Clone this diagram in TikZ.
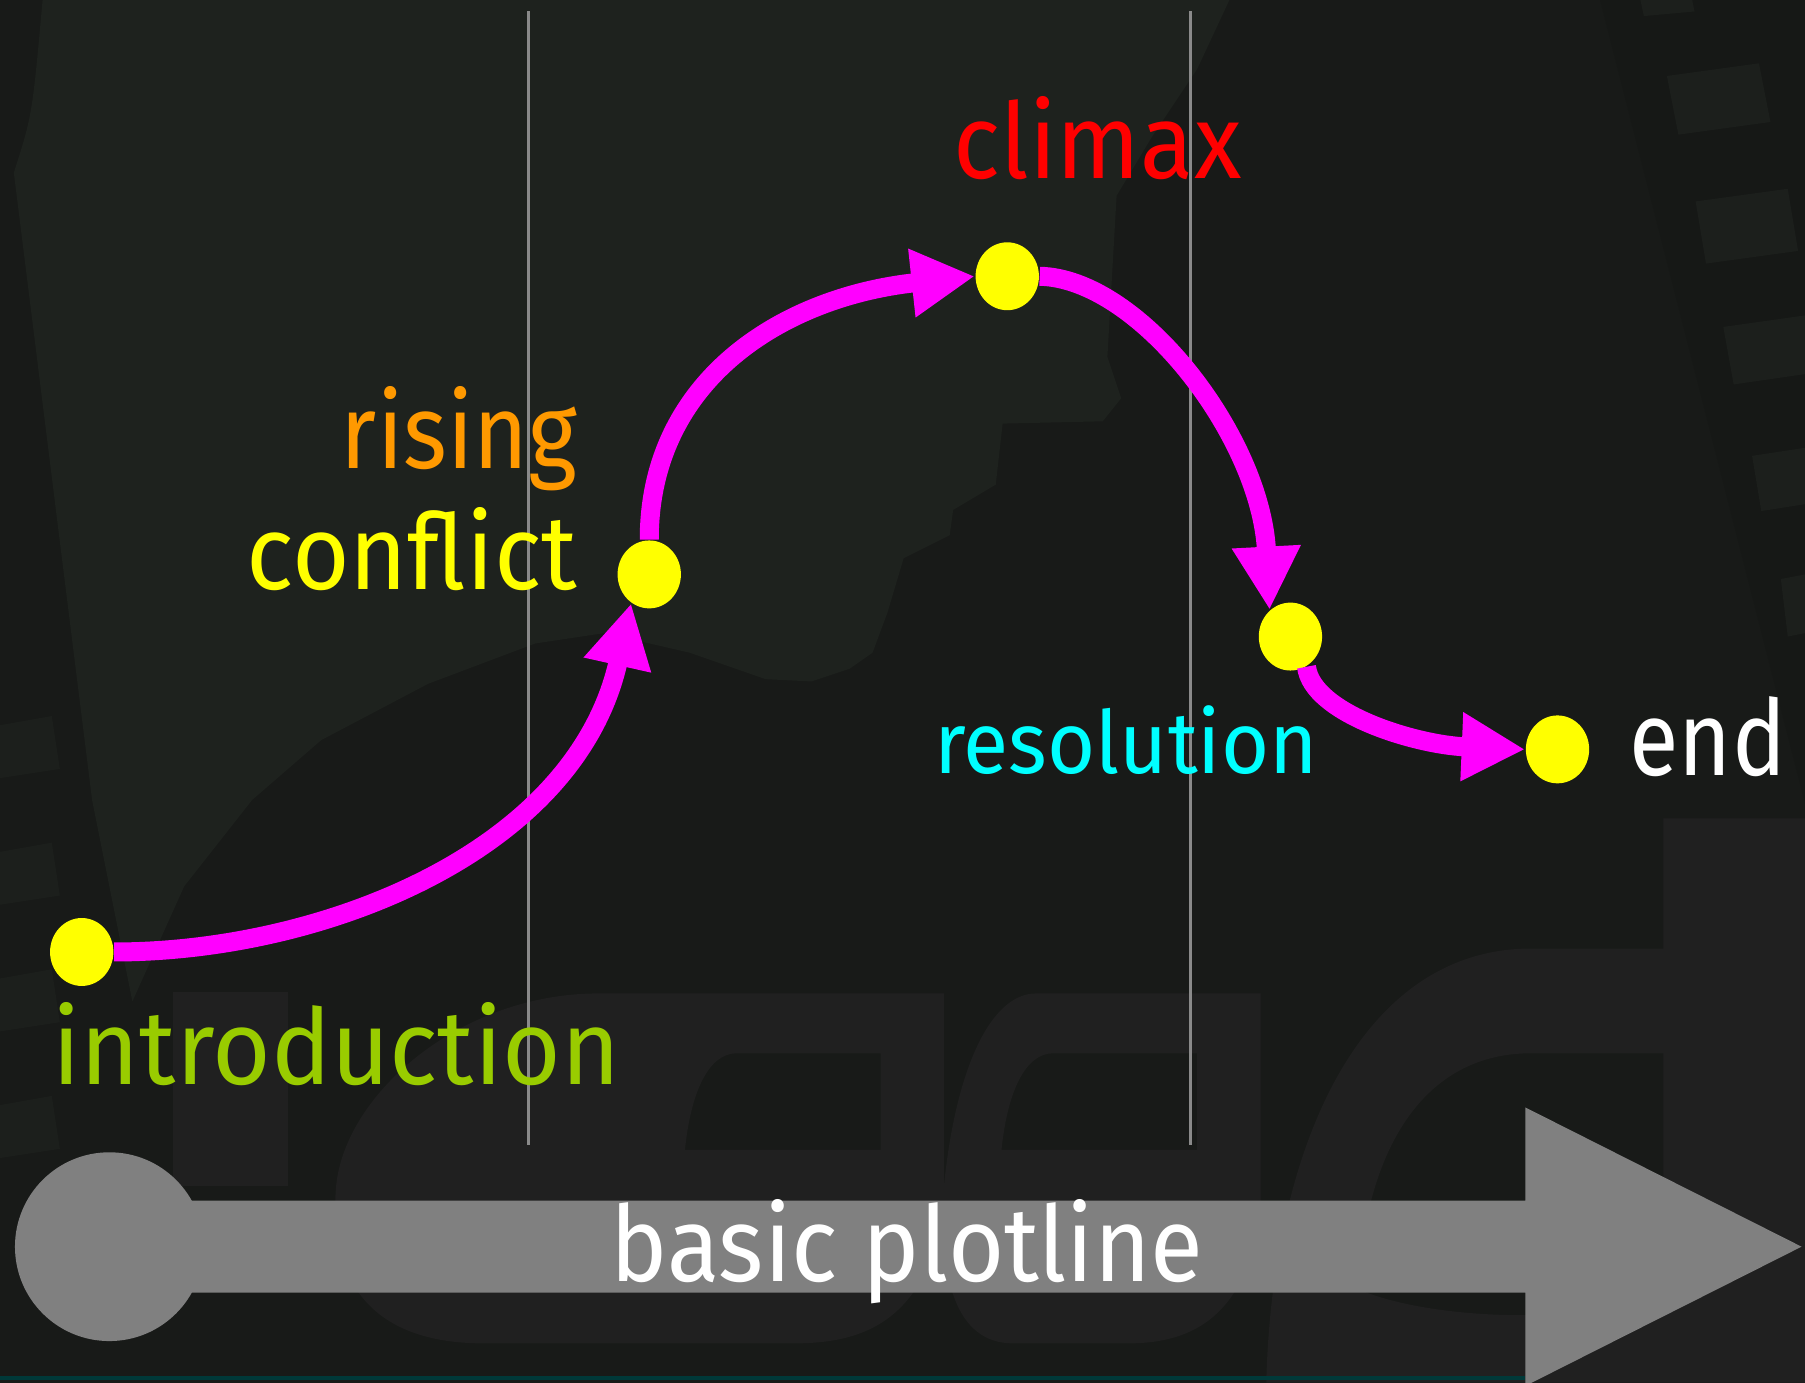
\documentclass[tikz,border=0pt]{standalone}
\usepackage{graphicx}
\usepackage{fontspec}
\setmainfont{Fira Sans}
\usetikzlibrary{arrows.meta,shapes.geometric}
\definecolor{bgdark}{HTML}{181A18}
\definecolor{bgband}{HTML}{161816}
\definecolor{bglight}{HTML}{1E221E}
\definecolor{wmark}{HTML}{202020}
\definecolor{holes}{HTML}{1C1F1C}
\definecolor{plotmag}{HTML}{FF00FF}
\definecolor{dotyel}{HTML}{FFFF00}
\definecolor{introgreen}{HTML}{99CC00}
\definecolor{risingorange}{HTML}{FF9900}
\definecolor{resocyan}{HTML}{00FFFF}
\definecolor{barGray}{HTML}{808080}
\definecolor{vline}{HTML}{8A8A8A}
\tikzset{
  lbl/.style={inner sep=0pt, font=\fontsize{26}{26}\selectfont},
  plotdot/.style={ellipse, fill=dotyel, minimum width=5.5mm, minimum height=5.9mm, inner sep=0pt},
  plotarrow/.style={draw=plotmag, line width=1.65mm, -{Triangle[length=5.5mm,width=5.6mm]}},
  guide/.style={draw=vline, line width=0.22mm},
}
\begin{document}
\begin{tikzpicture}[x=0.1mm,y=-0.1mm]
\useasboundingbox (0,0) rectangle (1568,1201);
\clip (0,0) rectangle (1568,1201);
% background
\fill[bgdark] (0,0) rectangle (1568,1201);
% lighter silhouette region
\fill[bglight] (37,0) -- (1068,0) -- (1040,60) -- (1000,120) -- (970,170) -- (962,310) -- (974,346) -- (958,366) -- (871,368) -- (865,421) -- (828,443) -- (825,465) -- (785,485) -- (771,532) -- (758,567) -- (738,581) -- (705,592) -- (665,590) -- (599,567) -- (525,550) -- (465,559) -- (372,594) -- (279,643) -- (219,695) -- (160,770) -- (115,870) -- (80,695) -- (12,150) .. controls (28,100) .. (37,0) -- cycle;
% left film strip marks
\foreach \yy in {630,740,850,960} {
  \fill[holes] (0,\yy) -- (45,\yy-8) -- (52,\yy+38) -- (0,\yy+46) -- cycle;
}
% right film strip
\fill[bgband] (1390,0) -- (1568,0) -- (1568,698) -- cycle;
\fill[holes] (1425,0) -- (1470,0) -- (1472,10) -- (1428,14) -- cycle;
\fill[holes] (1448,66) -- (1528,55) -- (1538,106) -- (1458,117) -- cycle;
\fill[holes] (1473,175) -- (1553,164) -- (1562,218) -- (1482,229) -- cycle;
\fill[holes] (1497,284) -- (1568,274) -- (1568,325) -- (1506,334) -- cycle;
\fill[holes] (1522,396) -- (1568,389) -- (1568,438) -- (1530,444) -- cycle;
\fill[holes] (1547,503) -- (1568,499) -- (1568,550) -- (1553,553) -- cycle;
% faint watermark letters
\fill[wmark] (150,862) rectangle (250,1030);
\fill[wmark, even odd rule]
  (520,863) -- (820,863) -- (820,1060) .. controls (800,1140) and (760,1167) .. (690,1167) -- (420,1167) .. controls (320,1167) and (285,1110) .. (292,1030) .. controls (300,950) and (400,863) .. (520,863) -- cycle
  (640,915) -- (765,915) -- (765,999) -- (595,999) .. controls (600,950) and (615,915) .. (640,915) -- cycle;
\fill[wmark, even odd rule]
  (900,863) -- (1095,863) -- (1095,1060) .. controls (1080,1140) and (1040,1167) .. (980,1167) -- (880,1167) .. controls (830,1167) and (815,1110) .. (820,1030) .. controls (830,930) and (860,863) .. (900,863) -- cycle
  (915,915) -- (1040,915) -- (1040,999) -- (870,999) .. controls (875,950) and (890,915) .. (915,915) -- cycle;
\fill[wmark, even odd rule]
  (1475,711) -- (1568,711) -- (1568,1201) -- (1100,1201) .. controls (1105,1000) and (1180,824) .. (1330,824) -- (1445,824) -- (1445,711) -- cycle
  (1445,915) -- (1330,915) .. controls (1230,915) and (1185,1010) .. (1180,1120) .. controls (1250,1150) and (1400,1150) .. (1445,1120) -- cycle;
% guide lines
\coordinate (g1t) at (459,10);
\coordinate (g1b) at (459,995);
\coordinate (g2t) at (1034,10);
\coordinate (g2b) at (1034,995);
\draw[guide] (g1t) -- (g1b);
\draw[guide] (g2t) -- (g2b);
% bottom plotline arrow
\fill[barGray] (95,1083) ellipse [x radius=82, y radius=82];
\fill[barGray] (95,1043) -- (1325,1043) -- (1325,962) -- (1565,1083) -- (1325,1204) -- (1325,1123) -- (95,1123) -- cycle;
\draw[teal!45!black, line width=0.4mm] (0,1197) -- (1325,1197);
\node[lbl, text=white, anchor=base west] (basic) at (530,1113) {\scalebox{0.918}[1]{basic plotline}};
% labels
\node[lbl, text=red, anchor=base west] (tclimax) at (828,155) {\scalebox{0.93}[1]{climax}};
\node[lbl, text=risingorange, anchor=base east] (trising) at (502,407) {\scalebox{0.89}[1]{rising}};
\node[lbl, text=dotyel, anchor=base east] (tconflict) at (502,512) {\scalebox{0.94}[1]{conflict}};
\node[lbl, text=resocyan, anchor=base west, font=\fontsize{21.5}{21.5}\selectfont] (treso) at (811,672) {\scalebox{0.95}[1]{resolution}};
\node[lbl, text=white, anchor=base west] (tend) at (1415,674) {\scalebox{0.86}[1]{end}};
\node[lbl, text=introgreen, anchor=base west] (tintro) at (45,942) {\scalebox{0.957}[1]{introduction}};
% dots
\node[plotdot] (intro) at (71,827) {};
\node[plotdot] (conf) at (564,499) {};
\node[plotdot] (clim) at (875,240) {};
\node[plotdot] (reso) at (1121,553) {};
\node[plotdot] (fin) at (1353,651) {};
% arrows
\draw[plotarrow] (intro.east) .. controls (280,827) and (500,740) .. (conf.238);
\draw[plotarrow] (conf.north) .. controls (564,330) and (680,258) .. (clim.west);
\draw[plotarrow] (clim.east) .. controls (990,242) and (1095,380) .. (reso.128);
\draw[plotarrow] (reso.-62) .. controls (1140,620) and (1230,647) .. (fin.west);
\end{tikzpicture}
\end{document}
